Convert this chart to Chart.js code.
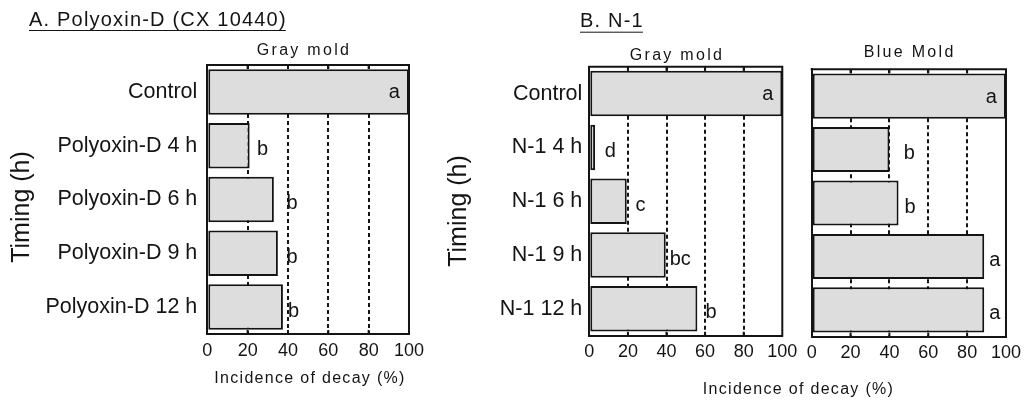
<!DOCTYPE html>
<html><head><meta charset="utf-8">
<script src="https://cdn.jsdelivr.net/npm/chart.js@4.4.1/dist/chart.umd.min.js"></script>
<style>
html,body{margin:0;padding:0;background:#fff;width:1027px;height:402px;overflow:hidden;position:relative;}
canvas{position:absolute;top:0;display:block;}
</style></head><body>
<canvas id="cA" width="430" height="402" style="left:0px"></canvas>
<canvas id="cB" width="597" height="402" style="left:430px"></canvas>
<canvas id="cC" width="227" height="402" style="left:800px"></canvas>
<script>
// ---------- data ----------
const xTicks = [0, 20, 40, 60, 80, 100];

const categoriesA = ['Control', 'Polyoxin-D 4 h', 'Polyoxin-D 6 h', 'Polyoxin-D 9 h', 'Polyoxin-D 12 h'];
const grayMoldA = [100, 21, 33, 35, 37.5];
const grayMoldA_se = [0, 2.6, 5.3, 3.3, 1.5];
const lettersA = ['a', 'b', 'b', 'b', 'b'];

const categoriesB = ['Control', 'N-1 4 h', 'N-1 6 h', 'N-1 9 h', 'N-1 12 h'];
const grayMoldB = [100, 3, 19.4, 39.6, 56];
const grayMoldB_se = [0, 4, 3.5, 1, 3.2];
const lettersGrayB = ['a', 'd', 'c', 'bc', 'b'];
const blueMoldB = [100, 40, 44.7, 88.8, 88.8];
const blueMoldB_se = [0, 6.3, 2.1, 1.6, 1.6];
const lettersBlueB = ['a', 'b', 'b', 'a', 'a'];

// ---------- style ----------
const INK = '#141414';
const FILL = '#dddddd';
const FONT = '"Liberation Sans", Arial, Helvetica, sans-serif';
Chart.defaults.font.family = FONT;
Chart.defaults.color = INK;

const decor = {
  id: 'decor',
  afterDraw(chart, args, o) {
    const ctx = chart.ctx, ca = chart.chartArea;
    const xs = chart.scales.x, ys = chart.scales.y;
    ctx.save();
    ctx.fillStyle = INK;
    ctx.strokeStyle = INK;
    // top and right frame
    ctx.lineWidth = 2;
    ctx.beginPath();
    ctx.moveTo(ca.left - 1, ca.top);
    ctx.lineTo(ca.right, ca.top);
    ctx.lineTo(ca.right, ca.bottom + 1);
    ctx.stroke();
    // inward ticks top and bottom
    ctx.lineWidth = 2;
    xTicks.forEach(v => {
      if (v <= 0 || v >= 100) return;
      const px = xs.getPixelForValue(v);
      ctx.beginPath();
      ctx.moveTo(px, ca.top); ctx.lineTo(px, ca.top + 4);
      ctx.moveTo(px, ca.bottom); ctx.lineTo(px, ca.bottom - 4);
      ctx.stroke();
    });
    // significance letters
    const data = chart.data.datasets[0].data;
    ctx.font = '20px ' + FONT;
    ctx.textBaseline = 'middle';
    o.letters.forEach((L, i) => {
      const v = data[i];
      const yc = ys.getPixelForValue(i);
      if (v >= 100) {
        ctx.textAlign = 'right';
        ctx.fillText(L, xs.getPixelForValue(100) - 9, yc + 1);
      } else {
        ctx.textAlign = 'left';
        ctx.fillText(L, xs.getPixelForValue(v + o.se[i]) + 2, yc + 4);
      }
    });
    // panel title
    if (o.title) {
      ctx.font = '16px ' + FONT;
      ctx.letterSpacing = '2.3px';
      ctx.textAlign = 'center';
      ctx.textBaseline = 'alphabetic';
      ctx.fillText(o.title.text, o.title.x, o.title.y);
    }
    // x axis title
    if (o.xTitle) {
      ctx.font = '16px ' + FONT;
      ctx.letterSpacing = '1.3px';
      ctx.textAlign = 'center';
      ctx.textBaseline = 'alphabetic';
      ctx.fillText(o.xTitle.text, o.xTitle.x, o.xTitle.y);
    }
    // y axis title
    if (o.yTitle) {
      ctx.letterSpacing = '0px';
      ctx.font = '25px ' + FONT;
      ctx.textAlign = 'center';
      ctx.textBaseline = 'middle';
      ctx.save();
      ctx.translate(o.yTitle.x, o.yTitle.y);
      ctx.rotate(-Math.PI / 2);
      ctx.fillText(o.yTitle.text, 0, 0);
      ctx.restore();
    }
    // header
    if (o.header) {
      ctx.font = '20px ' + FONT;
      ctx.letterSpacing = '1.2px';
      ctx.textAlign = 'left';
      ctx.textBaseline = 'alphabetic';
      ctx.fillText(o.header.text, o.header.x, o.header.y);
      const w = ctx.measureText(o.header.text).width;
      ctx.lineWidth = 1;
      ctx.beginPath();
      ctx.moveTo(o.header.x, o.header.uy + 0.5);
      ctx.lineTo(o.header.x + w - 1, o.header.uy + 0.5);
      ctx.stroke();
    }
    ctx.restore();
  }
};

function makeChart(id, cfg) {
  return new Chart(document.getElementById(id), {
    type: 'bar',
    data: {
      labels: cfg.labels,
      datasets: [{
        data: cfg.values,
        backgroundColor: FILL,
        borderColor: INK,
        borderWidth: 2,
        borderSkipped: false,
        categoryPercentage: 1,
        barPercentage: 0.845
      }]
    },
    options: {
      indexAxis: 'y',
      responsive: false,
      animation: false,
      events: [],
      layout: { padding: { left: 0, right: cfg.padRight, top: cfg.top, bottom: 0 } },
      plugins: {
        legend: { display: false },
        tooltip: { enabled: false },
        title: { display: false },
        decor: cfg.decor
      },
      scales: {
        x: {
          type: 'linear', min: 0, max: 100,
          afterBuildTicks: s => { s.ticks = xTicks.map(v => ({ value: v })); },
          afterFit: s => { s.height = cfg.xHeight; },
          ticks: { font: { size: 18 }, color: INK, padding: 6, maxRotation: 0, autoSkip: false },
          grid: {
            drawTicks: false,
            lineWidth: 2,
            color: c => (c.tick && (c.tick.value <= 0 || c.tick.value >= 100)) ? 'rgba(0,0,0,0)' : INK
          },
          border: { display: true, color: INK, width: 2, dash: [4, 3] }
        },
        y: {
          type: 'category',
          offset: true,
          afterFit: s => { s.width = cfg.yWidth; },
          ticks: { display: cfg.showLabels, font: { size: 21.5 }, color: INK, padding: cfg.yPad },
          grid: { display: false, drawTicks: false },
          border: { display: true, color: INK, width: 2 }
        }
      }
    },
    plugins: [decor]
  });
}

makeChart('cA', {
  labels: categoriesA, values: grayMoldA,
  yWidth: 207.3, padRight: 430 - 413.3, top: 65, xHeight: 402 - 334,
  showLabels: true, yPad: 10,
  decor: {
    se: grayMoldA_se, letters: lettersA,
    title: { text: 'Gray mold', x: 304, y: 55 },
    yTitle: { text: 'Timing (h)', x: 22, y: 207 },
    xTitle: { text: 'Incidence of decay (%)', x: 310, y: 383 },
    header: { text: 'A. Polyoxin-D (CX 10440)', x: 29, y: 26, uy: 30 }
  }
});

makeChart('cB', {
  labels: categoriesB, values: grayMoldB,
  yWidth: 159.3, padRight: 597 - 352.3, top: 66.7, xHeight: 402 - 335.7,
  showLabels: true, yPad: 7,
  decor: {
    se: grayMoldB_se, letters: lettersGrayB,
    title: { text: 'Gray mold', x: 247, y: 59.5 },
    yTitle: { text: 'Timing (h)', x: 29.5, y: 211 },
    xTitle: { text: 'Incidence of decay (%)', x: 368.5, y: 394 },
    header: { text: 'B. N-1', x: 150, y: 27.3, uy: 31.7 }
  }
});

makeChart('cC', {
  labels: categoriesB, values: blueMoldB,
  yWidth: 11.7, padRight: 227 - 207.7, top: 69.3, xHeight: 402 - 336.7,
  showLabels: false, yPad: 0,
  decor: {
    se: blueMoldB_se, letters: lettersBlueB,
    title: { text: 'Blue Mold', x: 109.7, y: 56.7 }
  }
});
</script>
</body></html>
